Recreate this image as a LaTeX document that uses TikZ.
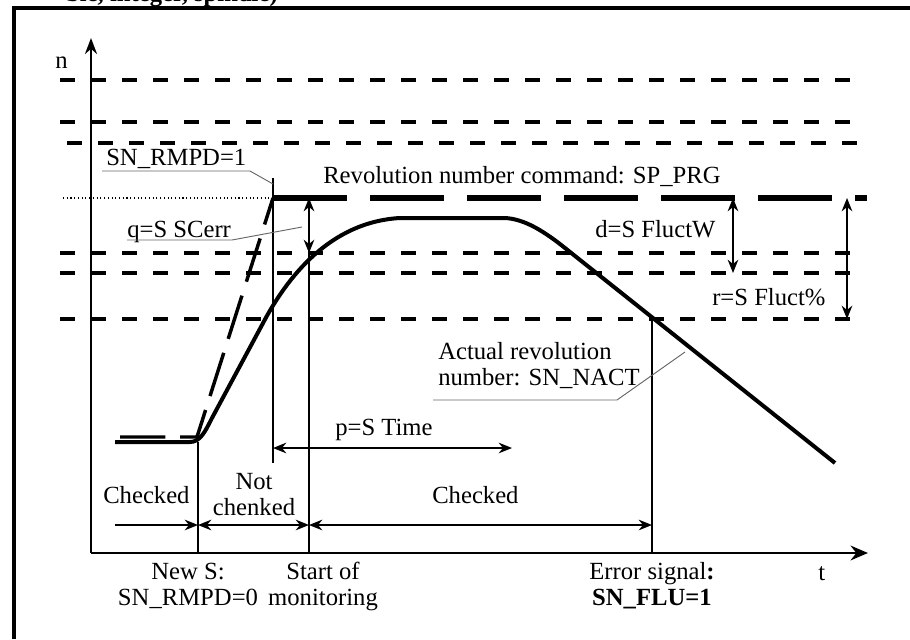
\documentclass[tikz,border=0pt]{standalone}
\usepackage{fontspec}
\setmainfont{Liberation Serif}
\usetikzlibrary{arrows.meta}

\begin{document}
\begin{tikzpicture}[x=0.75pt,y=-0.75pt,
    lbl/.style={font=\fontsize{18.5}{19}\selectfont,inner sep=0pt,anchor=base west},
    twoline/.style={lbl,align=center,anchor=base},
    level/.style={line width=3pt,dash pattern=on 11.25pt off 12pt},
    command/.style={line width=4.6pt,dash pattern=on 55.5pt off 17.25pt},
    ramp/.style={line width=2.6pt,dash pattern=on 34pt off 11pt},
    leader/.style={black!60,line width=0.7pt},
    guide/.style={line width=0.8pt},
    edge/.style={line width=1.5pt},
    span/.style={line width=1.3pt,{Stealth[length=10pt,width=8pt]}-{Stealth[length=10pt,width=8pt]}},
    fwd/.style={line width=1.3pt,-{Stealth[length=10pt,width=8pt]}}]
  \useasboundingbox (0,0) rectangle (910,639);

  % frame and cut-off caption
  \draw[line width=3pt] (14,639) -- (14,8) -- (910,8);
  \node[lbl,font=\bfseries\fontsize{18.5}{19}\selectfont,anchor=base east] (caption) at (278,2) {ble, integer, spindle)};

  % axes
  \coordinate (O) at (91,553);
  \coordinate (ytip) at (91,38);
  \coordinate (xtip) at (868,553);
  \draw[line width=2.2pt,-{Stealth[length=12pt,width=9pt]}] (O) -- (ytip);
  \draw[line width=2.2pt,-{Stealth[length=13pt,width=11pt]}] (O) -- (xtip);
  \node[lbl] (nlab) at (55,68) {n};
  \node[lbl] (tlab) at (818,580) {t};

  % tolerance levels
  \foreach \y/\xa in {80/60,122/60,143/67,253/60,273/60,319/60}
    \draw[level] (\xa,\y) -- (858,\y);

  % key points
  \coordinate (cmd) at (273,198);
  \coordinate (mon) at (309,253);
  \coordinate (err) at (652,319);
  \coordinate (news) at (198,442);
  \coordinate (lowW) at (733,273);
  \coordinate (lowR) at (847,319);
  \coordinate (pend) at (512,448);
  \coordinate (rowL) at (115,525);

  % revolution number command
  \draw[dotted,line width=0.8pt] (63,198) -- (cmd);
  \draw[command] (cmd) -- (867,198);
  \draw[ramp] (120,437) -- (197,437) -- (cmd);

  % actual revolution number
  \draw[line width=3pt,line join=round] (115,442) -- (190,442)
    .. controls (200,442) and (205,432) .. (212,418) -- (262,325)
    .. controls (287,277) and (330,222) .. (400,218) -- (505,218)
    .. controls (525,219) and (545,232) .. (565,248) -- (835,463);

  % vertical marks
  \draw[guide] ([yshift=15pt]cmd) -- (cmd |- 0,463);
  \draw[guide] (news) -- (news |- O);
  \draw[edge] (mon) -- (mon |- O);
  \draw[edge] (err) -- (err |- O);

  % dimension arrows
  \draw[span] (mon |- cmd) -- (mon);
  \draw[span] (lowW |- cmd) -- (lowW);
  \draw[span] (lowR |- cmd) -- (lowR);
  \draw[span] (cmd |- pend) -- (pend);
  \draw[fwd] (rowL) -- (news |- rowL);
  \draw[span] (news |- rowL) -- (mon |- rowL);
  \draw[span] (mon |- rowL) -- (err |- rowL);

  % labels
  \node[lbl] (rmpd1) at (106,165) {SN\_RMPD=1};
  \node[lbl] (cmdlab) at (323,183) {Revolution number command: SP\_PRG};
  \node[lbl] (qlab) at (127,237) {q=S SCerr};
  \node[lbl] (dlab) at (595,237) {d=S FluctW};
  \node[lbl] (rlab) at (712,305) {r=S Fluct\%};
  \node[lbl,align=left] (actlab) at (438,385) {Actual revolution\\number: SN\_NACT};
  \node[lbl] (plab) at (335,435) {p=S Time};
  \node[lbl] (chk1) at (103,503) {Checked};
  \node[twoline] (notchk) at (254,515) {Not\\chenked};
  \node[lbl] (chk2) at (432,503) {Checked};
  \node[twoline] (newslab) at (188,605) {New S:\\SN\_RMPD=0};
  \node[twoline] (monlab) at (323,605) {Start of\\monitoring};
  \node[twoline] (errlab) at (652,605) {Error signal\textbf{:}\\\textbf{SN\_FLU=1}};

  % leaders
  \draw[leader] ([xshift=-3pt,yshift=-4.5pt]rmpd1.base west) -- ++(148,0) -- (cmd |- 0,184);
  \draw[leader] ([yshift=-2.25pt]qlab.base west) -- ++(105,0) -- (302,227);
  \draw[leader] (433,400) -- (617,400) -- (685,352);
\end{tikzpicture}
\end{document}
